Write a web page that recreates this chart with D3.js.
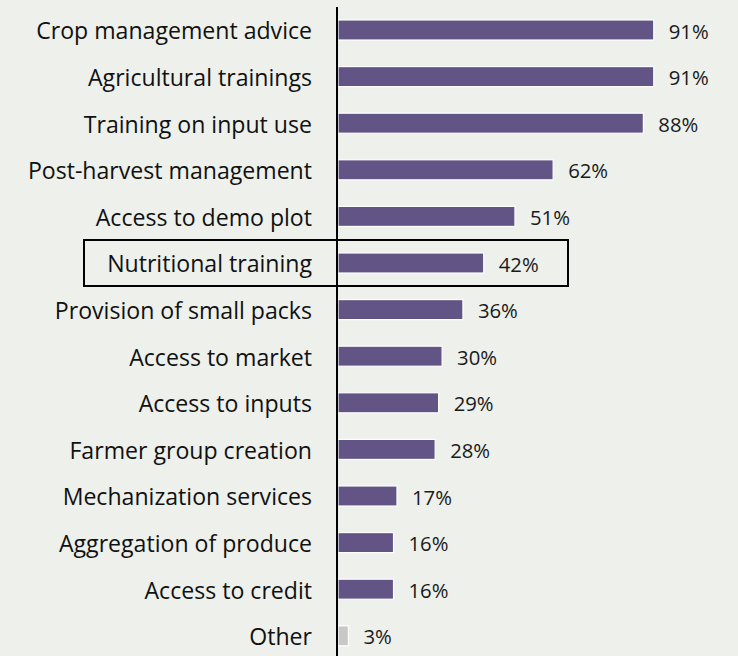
<!DOCTYPE html>
<html>
<head>
<meta charset="utf-8">
<script src="https://cdn.jsdelivr.net/npm/d3@7"></script>
<style>
  html, body { margin: 0; padding: 0; background: #edf0eb; }
  svg { display: block; }
</style>
</head>
<body>
<svg id="chart" width="738" height="656"></svg>
<script>
// Share of respondents reporting each service
const categories = [
  "Crop management advice",
  "Agricultural trainings",
  "Training on input use",
  "Post-harvest management",
  "Access to demo plot",
  "Nutritional training",
  "Provision of small packs",
  "Access to market",
  "Access to inputs",
  "Farmer group creation",
  "Mechanization services",
  "Aggregation of produce",
  "Access to credit",
  "Other"
];
const values = [91, 91, 88, 62, 51, 42, 36, 30, 29, 28, 17, 16, 16, 3];
const highlighted = "Nutritional training";
const greyed = "Other";

const width = 738, height = 656;
const axisX = 338;
const barColor = "#625485";
const otherColor = "#c8c8c8";
const fontFamily = "'Open Sans', 'Noto Sans', sans-serif";

const svg = d3.select("#chart");

svg.append("rect")
  .attr("width", width).attr("height", height)
  .attr("fill", "#edf0eb");

const x = d3.scaleLinear().domain([0, 100]).range([axisX, axisX + 347]);
const y = d3.scaleBand()
  .domain(categories)
  .range([6.7, 659.1])
  .paddingInner(0.57)
  .paddingOuter(0.285);

const data = categories.map((c, i) => ({ category: c, value: values[i] }));

// Bars
svg.append("g")
  .selectAll("rect")
  .data(data)
  .join("rect")
  .attr("x", x(0))
  .attr("y", d => y(d.category))
  .attr("width", d => x(d.value) - x(0))
  .attr("height", y.bandwidth())
  .attr("fill", d => d.category === greyed ? otherColor : barColor)
  .attr("stroke", "#ffffff")
  .attr("stroke-width", 1.2);

// Value labels
svg.append("g")
  .selectAll("text")
  .data(data)
  .join("text")
  .attr("x", d => x(d.value) + 15)
  .attr("y", d => y(d.category) + y.bandwidth() / 2 + 1.5)
  .attr("dy", "0.35em")
  .attr("font-family", fontFamily)
  .attr("font-size", 20.3)
  .attr("fill", "#1a1a1a")
  .text(d => d.value + "%");

// Category axis
const yAxis = d3.axisLeft(y).tickSize(0).tickPadding(26);
const gAxis = svg.append("g")
  .attr("transform", `translate(${axisX},2)`)
  .call(yAxis);
gAxis.select(".domain").remove();
gAxis.selectAll("text")
  .attr("font-family", fontFamily)
  .attr("font-size", 23.1)
  .attr("fill", "#111111");

svg.append("line")
  .attr("x1", axisX - 1).attr("x2", axisX - 1)
  .attr("y1", 7).attr("y2", height)
  .attr("stroke", "#000")
  .attr("stroke-width", 2);

// Box around the highlighted row
const hy = y(highlighted) + y.bandwidth() / 2;
svg.append("rect")
  .attr("x", 84)
  .attr("y", hy - 23)
  .attr("width", 484)
  .attr("height", 46)
  .attr("fill", "none")
  .attr("stroke", "#000")
  .attr("stroke-width", 2);
</script>
</body>
</html>
